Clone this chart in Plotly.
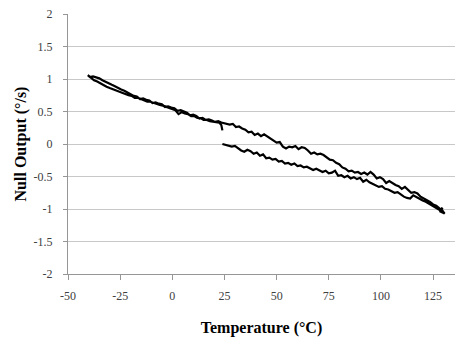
import plotly.graph_objects as go

# Heating branch (lower, right side)
heat_temp = [24, 25.5, 27, 28.5, 30, 31.5, 33, 34.5, 36, 37.5, 39, 40.5, 42, 43.5, 45, 46.5, 48, 49.5,
             51, 52.5, 54, 55.5, 57, 58.5, 60, 61.5, 63, 64.5, 66, 67.5, 69, 70.5, 72, 73.5, 75, 76.5,
             78, 79.5, 81, 82.5, 84, 85.5, 87, 88.5, 90, 91.5, 93, 94.5, 96, 97.5, 99, 100.5, 102, 103.5,
             105, 106.5, 108, 109.5, 111, 112.5, 114, 115.5, 117, 118.5, 120, 121.5, 123, 124.5, 126,
             127.5, 129, 130]
heat_out = [0.00, -0.01, -0.02, -0.04, -0.03, -0.07, -0.10, -0.12, -0.09, -0.11,
            -0.15, -0.13, -0.18, -0.16, -0.22, -0.21, -0.24, -0.23, -0.27, -0.26,
            -0.30, -0.29, -0.32, -0.30, -0.34, -0.33, -0.36, -0.35, -0.38, -0.40,
            -0.38, -0.41, -0.43, -0.41, -0.45, -0.44, -0.41, -0.49, -0.48, -0.51,
            -0.49, -0.53, -0.51, -0.54, -0.52, -0.58, -0.55, -0.59, -0.61, -0.63,
            -0.66, -0.65, -0.69, -0.70, -0.73, -0.75, -0.74, -0.78, -0.81, -0.83,
            -0.84, -0.79, -0.82, -0.85, -0.87, -0.89, -0.92, -0.94, -0.97, -1.00,
            -1.03, -1.05]

# Turn-around at the hot end
turn_temp = [129, 130.5, 128.5, 129.5, 128.5]
turn_out = [-1.00, -1.07, -1.04, -0.98, -1.01]

# Cooling branch (upper, right side)
cool_temp = [128, 126.5, 125, 123.5, 122, 120.5, 119, 117.5, 116, 114.5, 113, 111.5, 110, 108.5,
             107, 105.5, 104, 102.5, 101, 99.5, 98, 96.5, 95, 93.5, 92, 90.5, 89, 87.5, 86, 84.5,
             83, 81.5, 80, 78.5, 77, 75.5, 74, 72.5, 71, 69.5, 68, 66.5, 65, 63.5, 62, 60.5, 59,
             57.5, 56, 54.5, 53, 51.5, 50, 48.5, 47, 45.5, 44, 42.5, 41, 39.5, 38, 36.5, 35, 33.5,
             32, 30.5, 29, 27.5, 26, 25]
cool_out = [-0.99, -0.95, -0.93, -0.89, -0.86, -0.83, -0.81, -0.76, -0.74, -0.75,
            -0.70, -0.66, -0.69, -0.65, -0.63, -0.60, -0.57, -0.60, -0.54, -0.51,
            -0.53, -0.47, -0.43, -0.47, -0.44, -0.46, -0.43, -0.44, -0.41, -0.42,
            -0.38, -0.36, -0.31, -0.29, -0.25, -0.24, -0.20, -0.17, -0.15, -0.16,
            -0.13, -0.15, -0.10, -0.06, -0.05, -0.08, -0.03, -0.05, -0.04, -0.07,
            -0.04, 0.03, 0.02, 0.05, 0.08, 0.11, 0.15, 0.12, 0.16, 0.14,
            0.19, 0.18, 0.22, 0.24, 0.27, 0.26, 0.31, 0.30, 0.31, 0.31]

# Cold side, going down to -40
cold_a_temp = [23.5, 22, 20.5, 19, 17.5, 16, 14.5, 13, 11.5, 10, 8.5, 7, 5.5, 4, 2.5, 1, -0.5, -2,
               -3.5, -5, -6.5, -8, -9.5, -11, -12.5, -14, -15.5, -17, -18.5, -20, -21.5, -23,
               -24.5, -26, -27.5, -29, -30.5, -32, -33.5, -35, -36.5, -38, -39.5, -40.5]
cold_a_out = [0.33, 0.35, 0.34, 0.36, 0.38, 0.37, 0.40, 0.39, 0.43, 0.45,
              0.44, 0.48, 0.50, 0.52, 0.51, 0.55, 0.56, 0.58, 0.57, 0.61,
              0.62, 0.64, 0.63, 0.67, 0.68, 0.70, 0.69, 0.73, 0.74, 0.77,
              0.79, 0.82, 0.84, 0.87, 0.89, 0.91, 0.93, 0.96, 0.98, 1.01,
              1.02, 1.04, 1.03, 1.06]

# Cold side, returning to room temperature
cold_b_temp = [-39, -37.5, -36, -34.5, -33, -31.5, -30, -28.5, -27, -25.5, -24, -22.5, -21, -19.5,
               -18, -16.5, -15, -13.5, -12, -10.5, -9, -7.5, -6, -4.5, -3, -1.5, 0, 1.5, 3, 4.5,
               6, 7.5, 9, 10.5, 12, 13.5, 15, 16.5, 18, 19.5, 21, 22.5, 23.5, 24]
cold_b_out = [1.03, 0.98, 0.96, 0.93, 0.91, 0.88, 0.86, 0.84, 0.82, 0.80,
              0.78, 0.77, 0.75, 0.74, 0.71, 0.71, 0.69, 0.68, 0.65, 0.65,
              0.63, 0.62, 0.60, 0.59, 0.57, 0.56, 0.54, 0.52, 0.46, 0.49,
              0.47, 0.46, 0.43, 0.43, 0.40, 0.40, 0.37, 0.37, 0.35, 0.34,
              0.34, 0.33, 0.29, 0.21]

x_ticks = [-50, -25, 0, 25, 50, 75, 100, 125]
x_tick_labels = ["-50", "-25", "0", "25", "50", "75", "100", "125"]
y_ticks = [2, 1.5, 1, 0.5, 0, -0.5, -1, -1.5, -2]
y_tick_labels = ["2", "1.5", "1", "0.5", "0", "-0.5", "-1", "-1.5", "-2"]

for a, b in [(heat_temp, heat_out), (turn_temp, turn_out), (cool_temp, cool_out),
             (cold_a_temp, cold_a_out), (cold_b_temp, cold_b_out)]:
    assert len(a) == len(b)

temperature = heat_temp + turn_temp + cool_temp + cold_a_temp + cold_b_temp
null_output = heat_out + turn_out + cool_out + cold_a_out + cold_b_out

fig = go.Figure()
fig.add_trace(go.Scatter(
    x=temperature, y=null_output, mode="lines",
    line=dict(color="black", width=2.2), showlegend=False,
))

serif = "Liberation Serif"
tick_font = dict(family=serif, size=12, color="#404040")
title_font = dict(family=serif, size=16, color="black")
fig.update_layout(
    width=462, height=337,
    margin=dict(l=68, r=7, t=14, b=63),
    paper_bgcolor="white", plot_bgcolor="white",
    font=dict(family=serif, size=12, color="#404040"),
)
fig.update_xaxes(
    range=[-50, 135.5], tickvals=x_ticks, ticktext=x_tick_labels,
    showgrid=False, zeroline=False, automargin=False,
    showline=True, linecolor="#969696", linewidth=1,
    ticks="outside", ticklen=5, tickcolor="#969696", ticklabelstandoff=6,
    tickfont=tick_font,
    title=dict(text="<b>Temperature (°C)</b>", font=title_font, standoff=20),
)
fig.update_yaxes(
    range=[-2, 2], tickvals=y_ticks, ticktext=y_tick_labels,
    showgrid=True, gridcolor="#c8c8c8", gridwidth=1, zeroline=False, automargin=False,
    showline=True, linecolor="#969696", linewidth=1,
    ticks="outside", ticklen=4, tickcolor="#969696", ticklabelstandoff=8,
    tickfont=tick_font,
    title=dict(text="<b>Null Output (°/s)</b>", font=title_font, standoff=2),
)
fig.write_html("out.html")
